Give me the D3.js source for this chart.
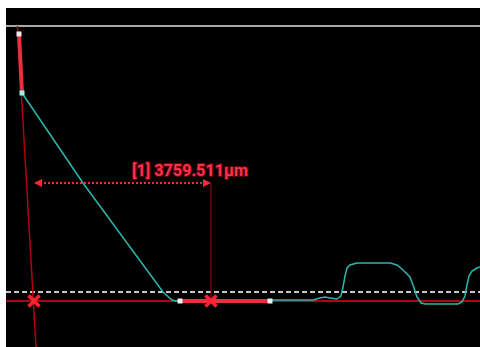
<!DOCTYPE html>
<html><head><meta charset="utf-8">
<script src="https://cdn.jsdelivr.net/npm/d3@7/dist/d3.min.js"></script>
<style>html,body{margin:0;padding:0;background:#fff;}svg{display:block;}</style>
</head><body>
<script>
// Profile data (µm)
const profileX = [340,1635,3335,3526,3611,3696,5607,6521,6669,6776,6882,7030,7115,7158,7200,7243,7306,7455,8156,8305,8432,8581,8666,8730,8815,8900,9600,9685,9749,9792,9834,9898,10004,10068];
const profileZ = [4418,2506,191,21,0,0,21,21,64,85,64,42,106,297,531,701,765,807,807,765,658,510,276,85,-42,-64,-64,-21,106,340,531,637,701,722];
// Reference features (µm)
const topLineZ = 5841;
const dashedLineZ = 191;
const baseLineZ = 0;
const slantLineX = [244, 637];
const slantLineZ = [5841, -977];
const thickLeftX = [276, 340];
const thickLeftZ = [5671, 4418];
const flatSegX = [3696, 5607];
const markerX = [595, 4354];
const measureZ = 2506;
const measureLabel = "[1] 3759.511μm";

const W = 480, H = 347;
const svg = d3.select("body").append("svg").attr("width", W).attr("height", H);
svg.append("rect").attr("width", W).attr("height", H).attr("fill", "#fff");
svg.append("rect").attr("x", 6).attr("y", 8).attr("width", W - 6).attr("height", H - 8).attr("fill", "#000");

const x = d3.scaleLinear().domain([0, 10068]).range([6, 480]);
const y = d3.scaleLinear().domain([-977, 6223]).range([347, 8]);

const g = svg.append("g");
// top gray line
g.append("line").attr("x1", x(0)).attr("x2", x(10068)).attr("y1", y(topLineZ)).attr("y2", y(topLineZ))
  .attr("stroke", "#a8a8a8").attr("stroke-width", 2);
// dashed line
g.append("line").attr("x1", x(0)).attr("x2", x(10068)).attr("y1", y(dashedLineZ)).attr("y2", y(dashedLineZ))
  .attr("stroke", "#c8c8c8").attr("stroke-width", 2).attr("stroke-dasharray", "5,3");
// base red line
g.append("line").attr("x1", x(0)).attr("x2", x(10068)).attr("y1", y(baseLineZ)).attr("y2", y(baseLineZ))
  .attr("stroke", "#b0000c").attr("stroke-width", 2);
// slant thin red line
g.append("line").attr("x1", x(slantLineX[0])).attr("x2", x(slantLineX[1])).attr("y1", y(slantLineZ[0])).attr("y2", y(slantLineZ[1]))
  .attr("stroke", "#b00010").attr("stroke-width", 1.5);
// vertical thin line at right marker
g.append("line").attr("x1", x(markerX[1])).attr("x2", x(markerX[1])).attr("y1", y(measureZ)).attr("y2", y(baseLineZ))
  .attr("stroke", "#b00010").attr("stroke-width", 1);

// profile
const line = d3.line().x((d, i) => x(profileX[i])).y((d, i) => y(profileZ[i]));
g.append("path").attr("d", line(profileX)).attr("fill", "none").attr("stroke", "#2fb5ae").attr("stroke-width", 1.5);

// thick segments
g.append("line").attr("x1", x(thickLeftX[0])).attr("x2", x(thickLeftX[1])).attr("y1", y(thickLeftZ[0])).attr("y2", y(thickLeftZ[1]))
  .attr("stroke", "#e8303c").attr("stroke-width", 4);
g.append("line").attr("x1", x(flatSegX[0])).attr("x2", x(flatSegX[1])).attr("y1", y(baseLineZ)).attr("y2", y(baseLineZ))
  .attr("stroke", "#e8303c").attr("stroke-width", 4);
// end squares
[[thickLeftX[0], thickLeftZ[0], "#e8e8e8"], [thickLeftX[1], thickLeftZ[1], "#9ff0e8"], [flatSegX[0], baseLineZ, "#e8f4f0"], [flatSegX[1], baseLineZ, "#e8f4f0"]].forEach(p => {
  g.append("rect").attr("x", x(p[0]) - 2.5).attr("y", y(p[1]) - 2.5).attr("width", 5).attr("height", 5).attr("fill", p[2]);
});

// X markers
markerX.forEach(mx => {
  const cx = x(mx), cy = y(baseLineZ), s = 5.5;
  g.append("path").attr("d", `M${cx - s},${cy - s}L${cx + s},${cy + s}M${cx - s},${cy + s}L${cx + s},${cy - s}`)
    .attr("stroke", "#ff2030").attr("stroke-width", 3.5).attr("fill", "none");
});

// measurement arrow
const ay = y(measureZ);
const ax1 = x(markerX[0]), ax2 = x(markerX[1]);
g.append("line").attr("x1", ax1 + 6).attr("x2", ax2 - 6).attr("y1", ay).attr("y2", ay)
  .attr("stroke", "#ff2838").attr("stroke-width", 2).attr("stroke-dasharray", "2,2");
g.append("path").attr("d", `M${ax1},${ay}L${ax1 + 8},${ay - 4}L${ax1 + 8},${ay + 4}Z`).attr("fill", "#ff2838");
g.append("path").attr("d", `M${ax2},${ay}L${ax2 - 8},${ay - 4}L${ax2 - 8},${ay + 4}Z`).attr("fill", "#ff2838");

// label
g.append("text").attr("x", 132).attr("y", ay - 7)
  .attr("font-family", "Roboto, 'Noto Sans', sans-serif").attr("font-size", 16).attr("font-weight", "bold")
  .attr("textLength", 116).attr("lengthAdjust", "spacingAndGlyphs")
  .attr("fill", "#ff3048").attr("stroke", "#600010").attr("stroke-width", 2).attr("paint-order", "stroke")
  .text(measureLabel);
</script>
</body></html>
